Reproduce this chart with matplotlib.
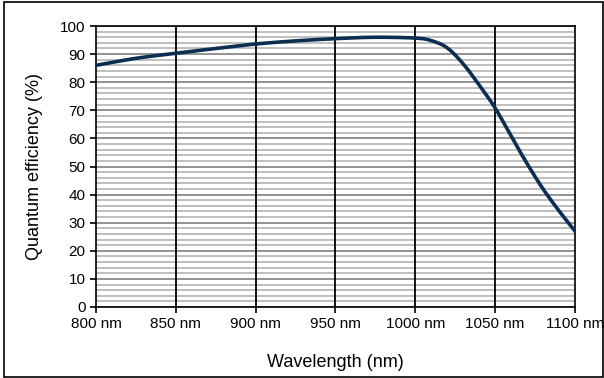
import numpy as np
import matplotlib
matplotlib.use("Agg")
import matplotlib.pyplot as plt
from matplotlib.patches import Rectangle

plt.rcParams['font.family'] = ['Liberation Sans', 'DejaVu Sans']

wavelength = [800, 825, 850, 875, 900, 925, 950, 975, 1000, 1010, 1020,
              1030, 1040, 1050, 1060, 1070, 1080, 1090, 1100]
efficiency = [86, 88.5, 90.3, 92, 93.6, 94.7, 95.5, 96, 95.7, 94.8, 92.2,
              86.5, 79, 70.8, 60.8, 51, 42, 34.2, 27]
x_ticks = [800, 850, 900, 950, 1000, 1050, 1100]
x_labels = [f"{v} nm" for v in x_ticks]


def smooth(xs, ys, n=20):
    # catmull-rom through the read points, like a spreadsheet "smoothed line"
    xs = np.asarray(xs, float)
    ys = np.asarray(ys, float)
    px = np.concatenate([[2 * xs[0] - xs[1]], xs, [2 * xs[-1] - xs[-2]]])
    py = np.concatenate([[2 * ys[0] - ys[1]], ys, [2 * ys[-1] - ys[-2]]])
    t = np.linspace(0, 1, n, endpoint=False)
    ox, oy = [], []
    for i in range(1, len(px) - 2):
        for p, o in ((px, ox), (py, oy)):
            p0, p1, p2, p3 = p[i - 1], p[i], p[i + 1], p[i + 2]
            o.extend(0.5 * (2 * p1 + (-p0 + p2) * t
                            + (2 * p0 - 5 * p1 + 4 * p2 - p3) * t ** 2
                            + (-p0 + 3 * p1 - 3 * p2 + p3) * t ** 3))
    ox.append(xs[-1])
    oy.append(ys[-1])
    return ox, oy


fig = plt.figure(figsize=(6.04, 3.78), dpi=100)
ax = fig.add_axes([96 / 604, 1 - 307 / 378, 479 / 604, 281 / 378])

# outer border of the chart
fig.patches.append(Rectangle((3.5 / 604, 1 / 378), 599 / 604, 375 / 378,
                             transform=fig.transFigure, fill=False,
                             edgecolor='black', linewidth=1.2))

ax.set_xlim(800, 1100)
ax.set_ylim(0, 100)
ax.set_xticks(x_ticks)
ax.set_xticklabels(x_labels)
ax.set_yticks(np.arange(0, 101, 10))
ax.set_yticks(np.arange(0, 101, 2), minor=True)
ax.tick_params(axis='both', which='major', direction='out', length=4,
               width=1.2, labelsize=11, colors='black')
ax.tick_params(axis='y', which='minor', length=0)

ax.grid(axis='y', which='minor', color='#b4b4b4', linewidth=1.2, zorder=0.5)
ax.grid(axis='y', which='major', color='#808080', linewidth=1.2, zorder=0.6)
ax.set_axisbelow(True)
for v in x_ticks[1:-1]:
    ax.axvline(v, color='black', linewidth=1.3, zorder=1)

for s in ax.spines.values():
    s.set_linewidth(1.2)

sx, sy = smooth(wavelength, efficiency)
ax.plot(sx, sy, color='#0b2e52', linewidth=2.6, zorder=3)

ax.set_ylabel('Quantum efficiency (%)', fontsize=13, labelpad=12)
ax.set_xlabel('Wavelength (nm)', fontsize=13, labelpad=16)

fig.savefig('out.png', dpi=100)
